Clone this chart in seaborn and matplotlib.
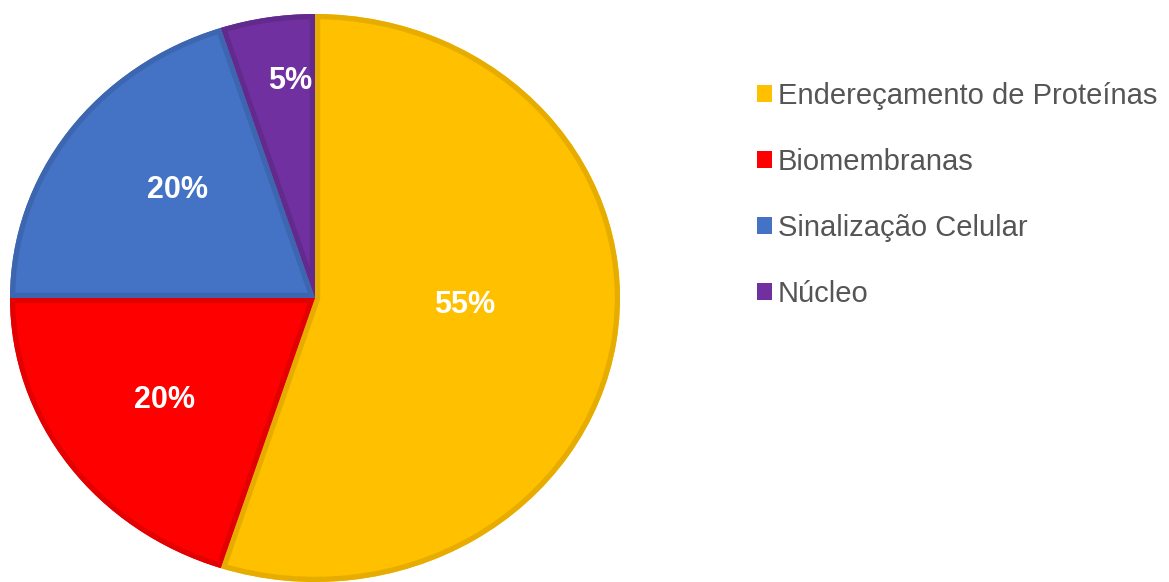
import matplotlib
matplotlib.use('Agg')
import matplotlib.pyplot as plt
import seaborn as sns
import numpy as np
from matplotlib.patches import Patch, PathPatch

categories = ['Endereçamento de Proteínas', 'Biomembranas', 'Sinalização Celular', 'Núcleo']
values = [55, 20, 20, 5]
colors = ['#FFC000', '#FF0000', '#4472C4', '#7030A0']
edge_colors = ['#E6AD00', '#E30000', '#3D66B0', '#632A8E']
label_dist = [0.49, 0.61, 0.59, 0.77]
label_angle_shift = [6, 0, -4, -3]

sns.set_style('white')
plt.rcParams['font.family'] = ['Liberation Sans', 'DejaVu Sans']

W, H = 1169, 582
fig = plt.figure(figsize=(W / 100, H / 100), dpi=100)
ax = fig.add_axes([10 / W, 0, 610 / W, 568 / H])
wedges, texts, autotexts = ax.pie(
    values, colors=colors, startangle=90, counterclock=False,
    autopct='%.0f%%', pctdistance=0.6,
    wedgeprops=dict(linewidth=0),
    textprops=dict(color='white', fontsize=22, fontweight='bold'))

ax.set_aspect('auto')
ax.set_xlim(-1, 1)
ax.set_ylim(-1, 1)
ax.axis('off')

for w, ec, t, d, sh in zip(wedges, edge_colors, autotexts, label_dist, label_angle_shift):
    border = PathPatch(w.get_path(), transform=w.get_transform(),
                       facecolor='none', edgecolor=ec, linewidth=7.5, zorder=w.get_zorder() + 0.1)
    ax.add_patch(border)
    border.set_clip_path(w.get_path(), w.get_transform())
    mid = np.deg2rad((w.theta1 + w.theta2) / 2 + sh)
    t.set_position((d * np.cos(mid), d * np.sin(mid)))
    t.set_ha('center')
    t.set_va('center')
    t.set_zorder(5)

handles = [Patch(facecolor=c, edgecolor='none') for c in colors]
leg = fig.legend(handles, categories, loc='upper left',
                 bbox_to_anchor=(757 / W, 1 - 82 / H),
                 frameon=False, fontsize=21, borderpad=0, borderaxespad=0,
                 handlelength=0.5, handleheight=0.5, handletextpad=0.22,
                 labelspacing=1.3)
for txt in leg.get_texts():
    txt.set_color('#555555')

fig.savefig('out.png', dpi=100, facecolor='white')
